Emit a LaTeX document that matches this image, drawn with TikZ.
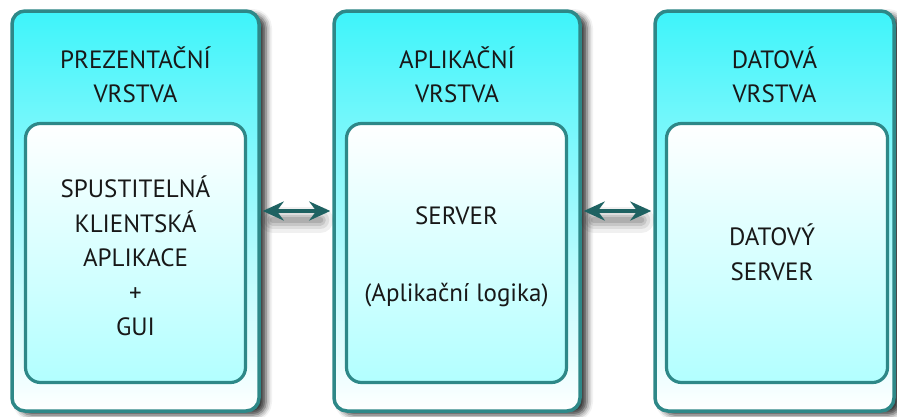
\documentclass[tikz,border=0pt]{standalone}
\usepackage{fontspec}
\setmainfont{PT Sans}
\usetikzlibrary{shadows.blur,arrows.meta}

\definecolor{edge}{RGB}{46,136,136}
\definecolor{capcyan}{RGB}{62,244,250}
\definecolor{palecyan}{RGB}{178,255,255}
\definecolor{ink}{RGB}{24,24,24}
\definecolor{arrowteal}{RGB}{30,98,98}

\begin{document}
\begin{tikzpicture}[x=1pt,y=-1pt,
  layer/.style={draw=edge, line width=3.5pt, rounded corners=13pt,
    top color=capcyan, bottom color=white, inner sep=0pt,
    blur shadow={shadow xshift=7pt, shadow yshift=-4pt,
      shadow blur radius=6pt, shadow opacity=80}},
  core/.style={draw=edge, line width=3.2pt, rounded corners=15pt,
    top color=white, bottom color=palecyan, inner sep=0pt,
    minimum width=220pt, minimum height=259pt},
  label/.style={text=ink, align=center,
    font=\fontsize{25}{34.5}\selectfont},
  link/.style={arrowteal, line width=4.5pt,
    {Stealth[length=21pt,width=19pt,inset=7pt]}-{Stealth[length=21pt,width=19pt,inset=7pt]},
    shorten <=2pt, shorten >=2pt},
  linkshade/.style={black, line cap=round, shorten <=12pt, shorten >=12pt}
]
\useasboundingbox (0,0) rectangle (897,416);

% three tiers
\node[layer, minimum width=247pt, minimum height=400pt] (pres) at (135.5,211) {};
\node[layer, minimum width=246pt, minimum height=400pt] (app)  at (457,211) {};
\node[layer, minimum width=239pt, minimum height=400pt] (data) at (774.5,211) {};

% inner panels
\node[core] (presin) at (135.5,253) {};
\node[core] (appin)  at (456.5,253) {};
\node[core, minimum width=221pt] (datain) at (777,253) {};

% tier titles
\node[label] (prest) at (135.5,75) {PREZENTAČNÍ\\VRSTVA};
\node[label] (appt)  at (457,75) {APLIKAČNÍ\\VRSTVA};
\node[label] (datat) at (774.5,75) {DATOV\'A\\VRSTVA};

% panel contents
\node[label] (prestx) at (135.5,256) {SPUSTITELN\'A\\KLIENTSK\'A\\APLIKACE\\+\\GUI};
\node[label] (apptx)  at (456.5,257) {SERVER\\[42pt](Aplikační logika)};
\node[label] (datatx) at (772,252.5) {DATOVÝ\\SERVER};

% soft shadows under the connectors
\foreach \w/\o in {26/0.06, 18/0.08, 11/0.1, 6/0.12}{
  \draw[linkshade, line width=\w pt, opacity=\o]
    ([yshift=-9pt]pres.east) -- ([yshift=-9pt]app.west);
  \draw[linkshade, line width=\w pt, opacity=\o]
    ([yshift=-9pt]app.east) -- ([yshift=-9pt]data.west);
}
% connectors between tiers
\draw[link] (pres.east) -- (app.west);
\draw[link] (app.east) -- (data.west);
\end{tikzpicture}
\end{document}
